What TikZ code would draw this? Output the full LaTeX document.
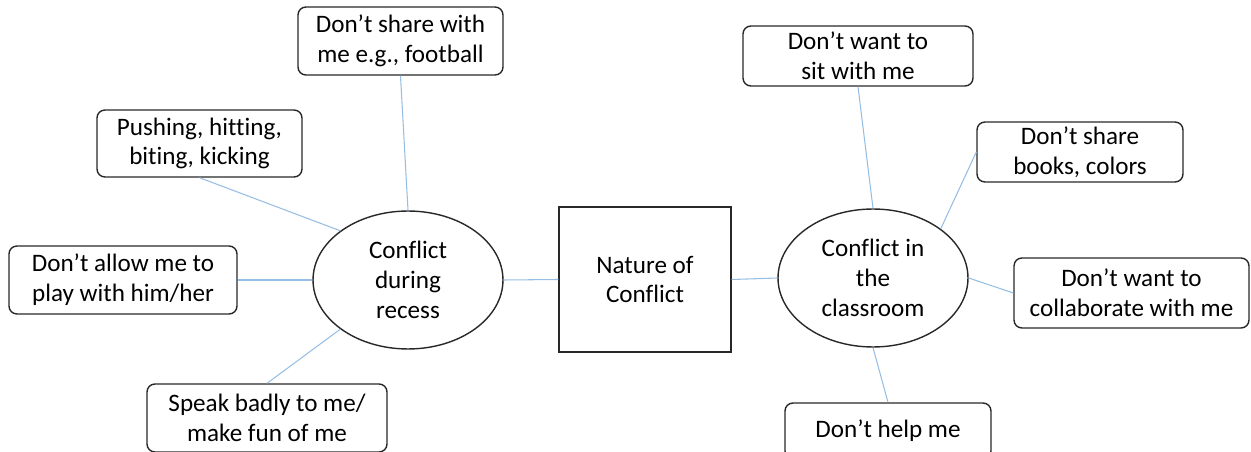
\documentclass[tikz,border=0pt]{standalone}
\usepackage{fontspec}
\setmainfont{Carlito}[Ligatures={NoCommon}]
\usetikzlibrary{shapes.geometric}
\definecolor{linkblue}{RGB}{150,190,228}
\definecolor{edgegray}{RGB}{40,40,40}
\tikzset{
  txt/.style={font=\fontsize{14.3}{17}\selectfont},
  leaf/.style={txt, draw=edgegray, line width=0.8pt, rounded corners=4.5pt, align=center, inner sep=0pt},
  hub/.style={txt, draw=edgegray, line width=0.8pt, ellipse, align=center, inner sep=0pt,
    minimum width=3.8cm, minimum height=2.76cm},
  core/.style={txt, draw=edgegray, line width=0.8pt, align=center, inner sep=0pt,
    minimum width=3.44cm, minimum height=2.9cm},
  link/.style={draw=linkblue, line width=0.6pt}
}
\begin{document}
\begin{tikzpicture}[x=0.02cm, y=-0.02cm]
\useasboundingbox (0,0) rectangle (1251,452);
% centre
\node[core] (nat) at (645,279.5) {Nature of\\Conflict};
% hubs
\node[hub] (L) at (408,280) {Conflict\\during\\recess};
\node[hub] (R) at (873,278) {Conflict in\\the\\classroom};
% left leaves
\node[leaf, minimum width=4.10cm, minimum height=1.36cm] (foot) at (400.5,41) {Don’t share with\\me e.g., football};
\node[leaf, minimum width=4.10cm, minimum height=1.34cm] (push) at (199.5,143.5) {Pushing, hitting,\\biting, kicking};
\node[leaf, minimum width=4.56cm, minimum height=1.36cm] (allow) at (123,280) {Don’t allow me to\\play with him/her};
\node[leaf, minimum width=4.80cm, minimum height=1.36cm] (speak) at (267,418) {Speak badly to me/\\make fun of me};
% right leaves
\node[leaf, minimum width=4.60cm, minimum height=1.20cm] (sit) at (858,56) {Don’t want to\\sit with me};
\node[leaf, minimum width=4.12cm, minimum height=1.20cm] (books) at (1080,152) {Don’t share\\books, colors};
\node[leaf, minimum width=4.70cm, minimum height=1.40cm] (collab) at (1131.5,293) {Don’t want to\\collaborate with me};
\node[leaf, minimum width=4.12cm, minimum height=1.12cm] (help) at (888,431) {Don’t help me};
% connectors
\draw[link] (L.east) -- (nat.west);
\draw[link] (nat.east) -- (R.west);
\draw[link] (foot.south) -- (L.north);
\draw[link] (push.south) -- (L.144);
\draw[link] (allow.east) -- (L.west);
\draw[link] (speak.north) -- (L.216);
\draw[link] (sit.south) -- (R.north);
\draw[link] (books.west) -- (R.36);
\draw[link] (R.east) -- (collab.west);
\draw[link] (R.south) -- (help.north);
\end{tikzpicture}
\end{document}
